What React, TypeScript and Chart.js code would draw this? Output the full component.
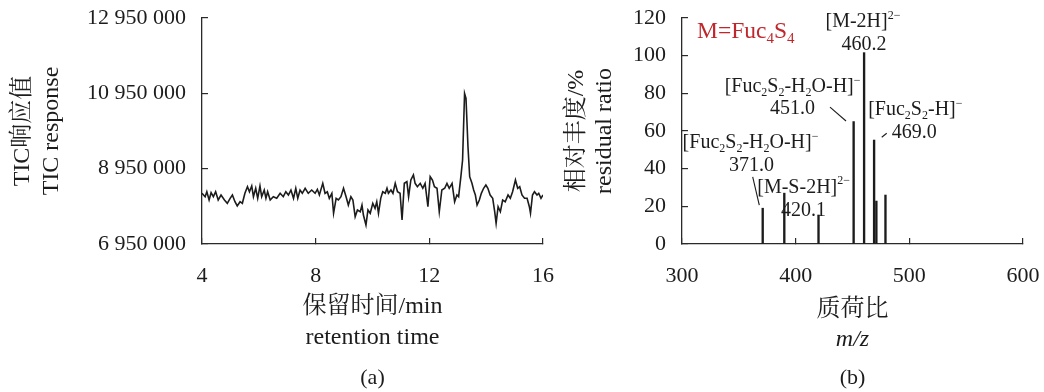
import React, { useEffect, useRef } from "react";
import { Chart, registerables } from "chart.js";

Chart.register(...registerables);

// ---------------- Data: (a) TIC chromatogram ----------------
const retentionTime = [
  4.0, 4.11, 4.17, 4.25, 4.32, 4.4, 4.48, 4.57, 4.67, 4.79,
  4.89, 4.99, 5.07, 5.16, 5.24, 5.34, 5.42, 5.51, 5.6, 5.67,
  5.75, 5.81, 5.89, 5.96, 6.04, 6.1, 6.19, 6.25, 6.31, 6.4,
  6.51, 6.63, 6.75, 6.86, 6.95, 7.04, 7.13, 7.22, 7.3, 7.37,
  7.45, 7.53, 7.63, 7.74, 7.86, 7.98, 8.06, 8.13, 8.25, 8.33,
  8.41, 8.48, 8.57, 8.63, 8.72, 8.8, 8.89, 8.98, 9.07, 9.15,
  9.24, 9.31, 9.39, 9.47, 9.57, 9.63, 9.68, 9.77, 9.84, 9.92,
  10.01, 10.09, 10.15, 10.21, 10.29, 10.36, 10.45, 10.51, 10.56, 10.65,
  10.72, 10.8, 10.88, 10.97, 11.04, 11.12, 11.21, 11.27, 11.35, 11.44,
  11.5, 11.58, 11.68, 11.77, 11.85, 11.95, 12.03, 12.11, 12.18, 12.27,
  12.35, 12.44, 12.54, 12.62, 12.7, 12.8, 12.89, 12.97, 13.03, 13.11,
  13.17, 13.24, 13.29, 13.36, 13.42, 13.5, 13.56, 13.62, 13.68, 13.76,
  13.83, 13.91, 13.99, 14.06, 14.14, 14.23, 14.3, 14.35, 14.42, 14.5,
  14.58, 14.67, 14.77, 14.85, 14.93, 15.03, 15.11, 15.18, 15.26, 15.35,
  15.44, 15.52, 15.56, 15.63, 15.7, 15.79, 15.85, 15.93, 16.0,
];
const ticResponse = [
  8296000, 8206000, 8338000, 8118000, 8312000, 8206000, 8338000, 8118000, 8251000, 8118000,
  8030000, 8163000, 8251000, 8073000, 7959000, 8073000, 8030000, 8296000, 8471000, 8338000,
  8490000, 8206000, 8429000, 8163000, 8490000, 8206000, 8383000, 8163000, 8338000, 8118000,
  8206000, 8163000, 8296000, 8206000, 8338000, 8251000, 8383000, 8163000, 8429000, 8163000,
  8383000, 8296000, 8429000, 8296000, 8383000, 8296000, 8402000, 8251000, 8561000, 8296000,
  8338000, 8163000, 8296000, 7765000, 8163000, 8118000, 8206000, 8429000, 8206000, 7985000,
  8206000, 8118000, 7675000, 7853000, 7807000, 7985000, 7720000, 7454000, 7853000, 7765000,
  8030000, 7898000, 8073000, 7765000, 8163000, 8338000, 8296000, 8429000, 8296000, 8383000,
  8296000, 8561000, 8338000, 8296000, 7587000, 8561000, 8604000, 8206000, 8649000, 8782000,
  8561000, 8471000, 8561000, 8429000, 8561000, 7940000, 8737000, 8649000, 8471000, 8429000,
  7807000, 8383000, 8429000, 8561000, 8429000, 8561000, 8073000, 8251000, 8206000, 8737000,
  9180000, 10950000, 10818000, 9533000, 8737000, 8561000, 8383000, 8251000, 7985000, 8118000,
  8296000, 8429000, 8516000, 8429000, 8251000, 8163000, 7807000, 7500000, 7940000, 7807000,
  8118000, 8073000, 8251000, 8163000, 8338000, 8649000, 8429000, 8471000, 8251000, 8163000,
  8163000, 7940000, 7765000, 8251000, 8338000, 8251000, 8296000, 8163000, 8251000,
];
const ticTicksX = [4, 8, 12, 16];
const ticTicksY = [6950000, 8950000, 10950000, 12950000];

// ---------------- Data: (b) mass spectrum ----------------
const mzValues = [371.0, 390.0, 420.1, 451.0, 460.2, 469.0, 471.0, 479.0];
const relAbundance = [19, 27, 15.4, 65, 101.6, 55.2, 22.8, 26];
const msTicksX = [300, 400, 500, 600];
const msTicksY = [0, 20, 40, 60, 80, 100, 120];

// ---------------- Styles ----------------
const SERIF = '"Liberation Serif", "Times New Roman", "Noto Serif CJK SC", "Noto Sans CJK SC", serif';
const INK = "#1c1c1c";
const AXIS = "#2a2a2a";
const RED = "#c0272d";

type Seg = { t: string; s?: "sub" | "sup" };
type Ann = { x: number; y: number; align: "left" | "center"; size: number; color: string; parts: Seg[] };

// annotation placements (data coordinates: m/z, %), baseline anchored
const msAnnotations: Ann[] = [
  { x: 313.2, y: 109.5, align: "left", size: 23.5, color: RED, parts: [{ t: "M=Fuc" }, { t: "4", s: "sub" }, { t: "S" }, { t: "4", s: "sub" }] },
  { x: 459.2, y: 115.2, align: "center", size: 20, color: INK, parts: [{ t: "[M-2H]" }, { t: "2−", s: "sup" }] },
  { x: 460.1, y: 103.2, align: "center", size: 20, color: INK, parts: [{ t: "460.2" }] },
  { x: 397.3, y: 80.7, align: "center", size: 20, color: INK, parts: [{ t: "[Fuc" }, { t: "2", s: "sub" }, { t: "S" }, { t: "2", s: "sub" }, { t: "-H" }, { t: "2", s: "sub" }, { t: "O-H]" }, { t: "−", s: "sup" }] },
  { x: 397.3, y: 69.0, align: "center", size: 20, color: INK, parts: [{ t: "451.0" }] },
  { x: 463.8, y: 68.5, align: "left", size: 20, color: INK, parts: [{ t: "[Fuc" }, { t: "2", s: "sub" }, { t: "S" }, { t: "2", s: "sub" }, { t: "-H]" }, { t: "−", s: "sup" }] },
  { x: 484.5, y: 56.3, align: "left", size: 20, color: INK, parts: [{ t: "469.0" }] },
  { x: 360.3, y: 51.0, align: "center", size: 20, color: INK, parts: [{ t: "[Fuc" }, { t: "2", s: "sub" }, { t: "S" }, { t: "2", s: "sub" }, { t: "-H" }, { t: "2", s: "sub" }, { t: "O-H]" }, { t: "−", s: "sup" }] },
  { x: 361.2, y: 38.6, align: "center", size: 20, color: INK, parts: [{ t: "371.0" }] },
  { x: 407.0, y: 27.3, align: "center", size: 20, color: INK, parts: [{ t: "[M-S-2H]" }, { t: "2−", s: "sup" }] },
  { x: 407.0, y: 15.0, align: "center", size: 20, color: INK, parts: [{ t: "420.1" }] },
];
const msLeaders = [
  [430.2, 72.7, 444.3, 65.3],
  [475.7, 56.7, 480.1, 58.8],
  [362.2, 35.7, 368.0, 20.7],
];

function drawRich(ctx: CanvasRenderingContext2D, a: Ann, px: number, py: number) {
  const base = `${a.size}px ${SERIF}`;
  const small = `${Math.round(a.size * 0.62)}px ${SERIF}`;
  let w = 0;
  for (const p of a.parts) {
    ctx.font = p.s ? small : base;
    w += ctx.measureText(p.t).width;
  }
  let cx = a.align === "center" ? px - w / 2 : px;
  ctx.textAlign = "left";
  ctx.textBaseline = "alphabetic";
  ctx.fillStyle = a.color;
  for (const p of a.parts) {
    ctx.font = p.s ? small : base;
    const dy = p.s === "sub" ? a.size * 0.22 : p.s === "sup" ? -a.size * 0.42 : 0;
    ctx.fillText(p.t, cx, py + dy);
    cx += ctx.measureText(p.t).width;
  }
}

const fmtSpaces = (v: number) => String(v).replace(/\B(?=(\d{3})+(?!\d))/g, " ");

function zeroPadding(s: any) {
  s.paddingTop = 0;
  s.paddingBottom = 0;
  s.paddingLeft = 0;
  s.paddingRight = 0;
}

function axisCommon(tickVals: number[], min: number, max: number, pad: number, fmt?: (v: number) => string) {
  return {
    type: "linear" as const,
    min,
    max,
    offset: false,
    afterBuildTicks: (axis: any) => {
      axis.ticks = tickVals.map((v) => ({ value: v }));
    },
    grid: { offset: false, drawOnChartArea: false, drawTicks: true, tickLength: -6, color: AXIS, lineWidth: 1.2 },
    border: { display: true, color: AXIS, width: 1.3 },
    ticks: {
      color: INK,
      font: { family: SERIF, size: 22 },
      padding: pad,
      maxRotation: 0,
      autoSkip: false,
      callback: (v: any) => (fmt ? fmt(Number(v)) : String(v)),
    },
  };
}

const captionPlugin = (label: string, extra?: (chart: any) => void) => ({
  id: "caption-" + label,
  afterDraw(chart: any) {
    const ctx = chart.ctx as CanvasRenderingContext2D;
    const ca = chart.chartArea;
    ctx.save();
    ctx.fillStyle = INK;
    ctx.font = `22px ${SERIF}`;
    ctx.textAlign = "center";
    ctx.textBaseline = "middle";
    ctx.fillText(label, (ca.left + ca.right) / 2, 378);
    if (extra) extra(chart);
    ctx.restore();
  },
});

const titleFont = (lh: number) => ({ family: SERIF, size: 24, lineHeight: lh });

export default function App() {
  const leftRef = useRef<HTMLCanvasElement>(null);
  const rightRef = useRef<HTMLCanvasElement>(null);

  useEffect(() => {
    const left = new Chart(leftRef.current as HTMLCanvasElement, {
      type: "line",
      data: {
        datasets: [
          {
            data: retentionTime.map((t, i) => ({ x: t, y: ticResponse[i] })),
            borderColor: INK,
            borderWidth: 1.6,
            pointRadius: 0,
            tension: 0,
            fill: false,
          },
        ],
      },
      options: {
        responsive: false,
        animation: false,
        devicePixelRatio: 1,
        layout: { padding: { top: 18, right: 17, left: 0, bottom: 0 } },
        plugins: { legend: { display: false }, tooltip: { enabled: false } },
        scales: {
          x: {
            ...axisCommon(ticTicksX, 4, 16, 25),
            afterFit: (s: any) => {
              s.height = 148;
              zeroPadding(s);
            },
            title: {
              display: true,
              text: ["保留时间/min", "retention time"],
              color: INK,
              font: titleFont(1.29),
              padding: { top: 0, bottom: 38.5 },
            },
          },
          y: {
            ...axisCommon(ticTicksY, 6950000, 12950000, 22, fmtSpaces),
            afterFit: (s: any) => {
              s.width = 202;
              zeroPadding(s);
            },
            title: {
              display: true,
              text: ["TIC响应值", "TIC response"],
              color: INK,
              font: titleFont(1.21),
              padding: { top: 8.5, bottom: 0 },
            },
          },
        },
      } as any,
      plugins: [captionPlugin("(a)")],
    });

    const right = new Chart(rightRef.current as HTMLCanvasElement, {
      type: "bar",
      data: {
        datasets: [
          {
            data: mzValues.map((m, i) => ({ x: m, y: relAbundance[i] })),
            backgroundColor: INK,
            barThickness: 1.7,
            borderWidth: 0,
          },
        ],
      },
      options: {
        responsive: false,
        animation: false,
        devicePixelRatio: 1,
        layout: { padding: { top: 18, right: 21, left: 0, bottom: 0 } },
        plugins: { legend: { display: false }, tooltip: { enabled: false } },
        scales: {
          x: {
            ...axisCommon(msTicksX, 300, 600, 25),
            afterFit: (s: any) => {
              s.height = 148;
              zeroPadding(s);
            },
            title: {
              display: true,
              text: "质荷比",
              color: INK,
              font: titleFont(1.29),
              padding: { top: 0, bottom: 66.5 },
            },
          },
          y: {
            ...axisCommon(msTicksY, 0, 120, 22),
            afterFit: (s: any) => {
              s.width = 122;
              zeroPadding(s);
            },
            title: {
              display: true,
              text: ["相对丰度/%", "residual ratio"],
              color: INK,
              font: titleFont(1.17),
              padding: { top: 3, bottom: 0 },
            },
          },
        },
      } as any,
      plugins: [
        captionPlugin("(b)", (chart: any) => {
          const ctx = chart.ctx as CanvasRenderingContext2D;
          const ca = chart.chartArea;
          const xs = chart.scales.x;
          const ys = chart.scales.y;
          ctx.font = `italic 24px ${SERIF}`;
          ctx.textAlign = "center";
          ctx.textBaseline = "middle";
          ctx.fillStyle = INK;
          ctx.fillText("m/z", (ca.left + ca.right) / 2, 340);
          for (const a of msAnnotations) {
            drawRich(ctx, a, xs.getPixelForValue(a.x), ys.getPixelForValue(a.y));
          }
          ctx.strokeStyle = INK;
          ctx.lineWidth = 1.1;
          for (const [x1, y1, x2, y2] of msLeaders) {
            ctx.beginPath();
            ctx.moveTo(xs.getPixelForValue(x1), ys.getPixelForValue(y1));
            ctx.lineTo(xs.getPixelForValue(x2), ys.getPixelForValue(y2));
            ctx.stroke();
          }
        }),
      ],
    });

    return () => {
      left.destroy();
      right.destroy();
    };
  }, []);

  return (
    <div style={{ position: "absolute", left: 0, top: 0, width: 1044, height: 392, background: "#fff" }}>
      <canvas ref={leftRef} width={560} height={392} style={{ position: "absolute", left: 0, top: 0, width: 560, height: 392 }} />
      <canvas ref={rightRef} width={484} height={392} style={{ position: "absolute", left: 560, top: 0, width: 484, height: 392 }} />
    </div>
  );
}
